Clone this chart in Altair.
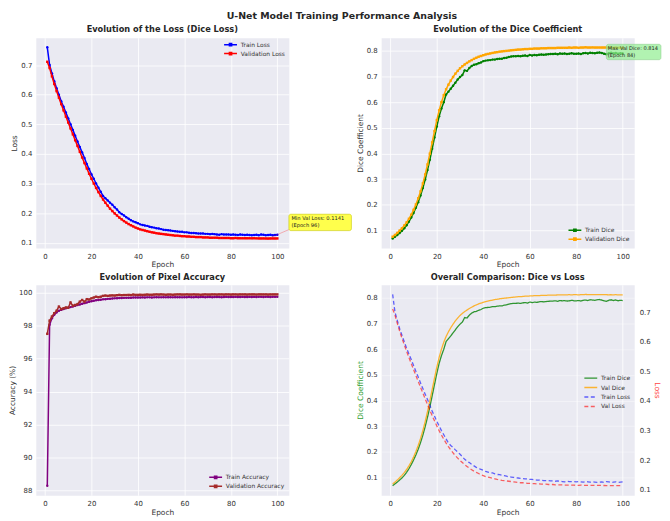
import altair as alt
import pandas as pd

epochs = list(range(1, 101))

train_loss = [0.760, 0.700, 0.672, 0.645, 0.622, 0.600, 0.578, 0.559, 0.540, 0.520,
              0.500, 0.481, 0.461, 0.442, 0.423, 0.405, 0.386, 0.366, 0.349, 0.331,
              0.316, 0.300, 0.286, 0.272, 0.258, 0.250, 0.243, 0.235, 0.228, 0.220,
              0.212, 0.203, 0.197, 0.192, 0.186, 0.181, 0.176, 0.172, 0.169, 0.166,
              0.162, 0.160, 0.158, 0.157, 0.154, 0.152, 0.151, 0.149, 0.148, 0.146,
              0.144, 0.143, 0.142, 0.141, 0.140, 0.139, 0.138, 0.137, 0.137, 0.135,
              0.135, 0.134, 0.133, 0.133, 0.132, 0.131, 0.131, 0.131, 0.130, 0.130,
              0.129, 0.130, 0.129, 0.128, 0.127, 0.129, 0.128, 0.128, 0.128, 0.127,
              0.128, 0.127, 0.126, 0.128, 0.127, 0.126, 0.127, 0.126, 0.125, 0.126,
              0.127, 0.125, 0.128, 0.127, 0.125, 0.126, 0.127, 0.125, 0.126, 0.127]

val_loss = [0.711, 0.690, 0.662, 0.636, 0.612, 0.590, 0.568, 0.547, 0.526, 0.506,
            0.486, 0.466, 0.446, 0.427, 0.407, 0.388, 0.369, 0.351, 0.333, 0.316,
            0.300, 0.285, 0.271, 0.258, 0.246, 0.235, 0.225, 0.215, 0.207, 0.199,
            0.192, 0.185, 0.179, 0.173, 0.168, 0.163, 0.159, 0.155, 0.151, 0.148,
            0.145, 0.143, 0.141, 0.139, 0.137, 0.135, 0.134, 0.132, 0.131, 0.130,
            0.129, 0.128, 0.127, 0.126, 0.125, 0.124, 0.124, 0.123, 0.122, 0.122,
            0.121, 0.121, 0.120, 0.120, 0.119, 0.119, 0.119, 0.118, 0.118, 0.118,
            0.117, 0.117, 0.117, 0.117, 0.116, 0.116, 0.116, 0.116, 0.116, 0.115,
            0.115, 0.116, 0.115, 0.115, 0.115, 0.115, 0.1149, 0.115, 0.1148, 0.115,
            0.1147, 0.1146, 0.1145, 0.1146, 0.1144, 0.1141, 0.1143, 0.1145, 0.1144, 0.1145]

train_dice = [0.068, 0.075, 0.082, 0.090, 0.098, 0.108, 0.120, 0.134, 0.150, 0.168,
              0.188, 0.210, 0.236, 0.265, 0.298, 0.335, 0.375, 0.418, 0.462, 0.505,
              0.545, 0.575, 0.600, 0.630, 0.641, 0.652, 0.664, 0.676, 0.688, 0.698,
              0.706, 0.724, 0.722, 0.733, 0.741, 0.746, 0.748, 0.752, 0.755, 0.760,
              0.762, 0.763, 0.764, 0.766, 0.766, 0.768, 0.769, 0.769, 0.772, 0.773,
              0.776, 0.778, 0.779, 0.779, 0.780, 0.779, 0.781, 0.782, 0.780, 0.784,
              0.782, 0.784, 0.783, 0.785, 0.786, 0.785, 0.786, 0.787, 0.788, 0.788,
              0.789, 0.787, 0.790, 0.789, 0.790, 0.788, 0.789, 0.791, 0.789, 0.789,
              0.790, 0.788, 0.791, 0.792, 0.790, 0.793, 0.792, 0.791, 0.793, 0.794,
              0.792, 0.789, 0.787, 0.791, 0.793, 0.790, 0.792, 0.789, 0.791, 0.790]

val_dice = [0.075, 0.082, 0.090, 0.099, 0.108, 0.119, 0.131, 0.145, 0.161, 0.180,
            0.201, 0.225, 0.252, 0.283, 0.318, 0.357, 0.399, 0.443, 0.487, 0.530,
            0.568, 0.600, 0.627, 0.650, 0.668, 0.684, 0.698, 0.711, 0.722, 0.732,
            0.740, 0.747, 0.753, 0.759, 0.764, 0.769, 0.773, 0.777, 0.780, 0.783,
            0.786, 0.788, 0.790, 0.792, 0.794, 0.795, 0.797, 0.798, 0.799, 0.800,
            0.801, 0.802, 0.803, 0.804, 0.805, 0.805, 0.806, 0.807, 0.807, 0.808,
            0.808, 0.809, 0.809, 0.809, 0.810, 0.810, 0.810, 0.811, 0.811, 0.811,
            0.811, 0.812, 0.812, 0.812, 0.812, 0.812, 0.813, 0.812, 0.813, 0.813,
            0.812, 0.813, 0.813, 0.814, 0.813, 0.813, 0.8135, 0.813, 0.813, 0.813,
            0.813, 0.813, 0.813, 0.812, 0.813, 0.812, 0.813, 0.812, 0.812, 0.812]

train_acc = [88.30, 98.05, 98.45, 98.65, 98.80, 98.90, 98.95, 99.00, 99.05, 99.08,
             99.12, 99.15, 99.20, 99.24, 99.28, 99.32, 99.36, 99.40, 99.44, 99.47,
             99.50, 99.53, 99.55, 99.57, 99.59, 99.60, 99.62, 99.63, 99.64, 99.65,
             99.66, 99.67, 99.67, 99.68, 99.68, 99.69, 99.69, 99.70, 99.70, 99.70,
             99.70, 99.71, 99.70, 99.71, 99.71, 99.70, 99.71, 99.72, 99.71, 99.71,
             99.72, 99.71, 99.72, 99.72, 99.71, 99.72, 99.72, 99.72, 99.71, 99.72,
             99.72, 99.73, 99.72, 99.72, 99.73, 99.72, 99.73, 99.73, 99.72, 99.73,
             99.73, 99.72, 99.73, 99.73, 99.73, 99.72, 99.73, 99.74, 99.73, 99.73,
             99.73, 99.74, 99.73, 99.73, 99.74, 99.73, 99.73, 99.74, 99.73, 99.74,
             99.73, 99.74, 99.74, 99.73, 99.74, 99.74, 99.73, 99.74, 99.74, 99.74]

val_acc = [97.50, 98.30, 98.55, 98.75, 98.90, 99.15, 99.00, 99.05, 99.10, 99.08,
           99.40, 99.20, 99.25, 99.30, 99.45, 99.55, 99.45, 99.60, 99.58, 99.65,
           99.70, 99.75, 99.72, 99.75, 99.80, 99.82, 99.80, 99.82, 99.83, 99.82,
           99.84, 99.86, 99.84, 99.85, 99.85, 99.86, 99.85, 99.88, 99.86, 99.86,
           99.87, 99.86, 99.87, 99.88, 99.87, 99.87, 99.88, 99.89, 99.88, 99.89,
           99.88, 99.87, 99.88, 99.88, 99.87, 99.88, 99.89, 99.89, 99.88, 99.88,
           99.89, 99.88, 99.88, 99.89, 99.88, 99.88, 99.87, 99.88, 99.89, 99.88,
           99.88, 99.89, 99.89, 99.88, 99.89, 99.89, 99.88, 99.89, 99.89, 99.88,
           99.89, 99.89, 99.88, 99.89, 99.89, 99.89, 99.88, 99.89, 99.89, 99.89,
           99.88, 99.89, 99.89, 99.89, 99.89, 99.88, 99.89, 99.89, 99.89, 99.89]

x_ticks = [0, 20, 40, 60, 80, 100]
loss_ticks = [0.1, 0.2, 0.3, 0.4, 0.5, 0.6, 0.7]
dice_ticks = [0.1, 0.2, 0.3, 0.4, 0.5, 0.6, 0.7, 0.8]
acc_ticks = [88, 90, 92, 94, 96, 98, 100]

FONT = "DejaVu Sans"
TXT = "#333333"
W, H = 255, 212

# matplotlib-like 5% margins
def mdomain(*arrs):
    lo = min(min(a) for a in arrs)
    hi = max(max(a) for a in arrs)
    p = 0.05 * (hi - lo)
    return [lo - p, hi + p]

xdom = mdomain(epochs)
loss_dom = mdomain(train_loss, val_loss)
dice_dom = mdomain(train_dice, val_dice)
acc_dom = mdomain(train_acc, val_acc)

def sdf(vals, name):
    return pd.DataFrame({"epoch": epochs, "value": vals, "series": name})

X = alt.X("epoch:Q", scale=alt.Scale(domain=xdom, nice=False, zero=False),
          axis=alt.Axis(values=x_ticks, title="Epoch", format="d"))

LM = "M-1,0L3,0M0.65,-0.35L1.35,-0.35L1.35,0.35L0.65,0.35Z"
LN = "M-1,0L3,0"

def legend(orient, symbol, rowpad=2.5, **kw):
    return alt.Legend(orient=orient, title=None, symbolType=symbol, symbolSize=42,
                      symbolStrokeWidth=1.5, labelOffset=9.5, rowPadding=rowpad,
                      labelFontSize=6, labelFont=FONT, labelColor=TXT, padding=0,
                      symbolFillColor="transparent", **kw)

def yenc(ydom, yticks, ytitle, fmt):
    return alt.Y("value:Q", scale=alt.Scale(domain=ydom, nice=False, zero=False),
                 axis=alt.Axis(values=yticks, title=ytitle, format=fmt))

def line_panel(tr_vals, va_vals, names, colors, Y, leg):
    cscale = alt.Scale(domain=names, range=colors)
    a = alt.Chart(sdf(tr_vals, names[0])).mark_line(
        strokeWidth=1.5, point=alt.OverlayMarkDef(size=6, filled=True, shape="circle")
    ).encode(x=X, y=Y, color=alt.Color("series:N", scale=cscale, legend=leg))
    b = alt.Chart(sdf(va_vals, names[1])).mark_line(
        strokeWidth=1.5, point=alt.OverlayMarkDef(size=6, filled=True, shape="square")
    ).encode(x=X, y=Y, color=alt.Color("series:N", scale=cscale, legend=leg))
    return a, b

# Panel 1: loss
Y1 = yenc(loss_dom, loss_ticks, "Loss", ".1f")
best_ep = val_loss.index(min(val_loss)) + 1
min_val = min(val_loss)
ann1 = pd.DataFrame({"epoch": [best_ep], "value": [min_val],
                     "label": [[f"Min Val Loss: {min_val:.4f}", f"(Epoch {best_ep})"]]})
a1, b1 = line_panel(train_loss, val_loss, ["Train Loss", "Validation Loss"], ["blue", "red"],
                    Y1, legend("top-right", LM, rowpad=-1.5, offset=3))
arrow1 = alt.Chart(ann1).mark_rule(color="red", opacity=0.35, strokeWidth=0.8,
                                   x2Offset=21, y2Offset=-9).encode(
    x=X, x2="epoch", y=Y1, y2="value")
box1 = alt.Chart(ann1).mark_rect(fill="yellow", fillOpacity=0.7, stroke="#c9c900",
                                 strokeWidth=0.6, cornerRadius=2,
                                 xOffset=21, x2Offset=84, yOffset=-24.5, y2Offset=-8).encode(
    x=X, x2="epoch", y=Y1, y2="value")
txt1 = alt.Chart(ann1).mark_text(align="left", baseline="top", dx=23.5, dy=-23,
                                 fontSize=5.2, lineHeight=7.2, font=FONT, color="#222").encode(
    x=X, y=Y1, text="label")
p1 = alt.layer(a1, b1, arrow1, box1, txt1).properties(
    width=W, height=H, title="Evolution of the Loss (Dice Loss)")

# Panel 2: dice
Y2 = yenc(dice_dom, dice_ticks, "Dice Coefficient", ".1f")
best_d_ep = val_dice.index(max(val_dice)) + 1
max_d = max(val_dice)
ann2 = pd.DataFrame({"epoch": [best_d_ep], "value": [max_d],
                     "label": [[f"Max Val Dice: {max_d:.3f}", f"(Epoch {best_d_ep})"]]})
a2, b2 = line_panel(train_dice, val_dice, ["Train Dice", "Validation Dice"], ["green", "orange"],
                    Y2, legend("bottom-right", LM, rowpad=-1.5, offset=4))
box2 = alt.Chart(ann2).mark_rect(fill="lightgreen", fillOpacity=0.7, stroke="#8fd08f",
                                 strokeWidth=0.6, cornerRadius=2,
                                 xOffset=21, x2Offset=76, yOffset=-3, y2Offset=12.5).encode(
    x=X, x2="epoch", y=Y2, y2="value")
txt2 = alt.Chart(ann2).mark_text(align="left", baseline="top", dx=22.5, dy=-1.5,
                                 fontSize=5.1, lineHeight=7.2, font=FONT, color="#222").encode(
    x=X, y=Y2, text="label")
p2 = alt.layer(a2, b2, box2, txt2).properties(
    width=W, height=H, title="Evolution of the Dice Coefficient")

# Panel 3: accuracy
Y3 = yenc(acc_dom, acc_ticks, "Accuracy (%)", "d")
a3, b3 = line_panel(train_acc, val_acc, ["Train Accuracy", "Validation Accuracy"],
                    ["purple", "brown"], Y3, legend("bottom-right", LM, rowpad=-1.5, offset=4))
p3 = alt.layer(a3, b3).properties(width=W, height=H, title="Evolution of Pixel Accuracy")

# Panel 4: comparison with twin axes
names4 = ["Train Dice", "Val Dice", "Train Loss", "Val Loss"]
cols4 = ["rgba(0,128,0,0.8)", "rgba(255,165,0,0.8)", "rgba(0,0,255,0.6)", "rgba(255,0,0,0.6)"]
dash4 = [[1, 0], [1, 0], [4, 2.5], [4, 2.5]]
leg4 = legend("none", LN, legendX=204, legendY=90)
C4 = alt.Color("series:N", scale=alt.Scale(domain=names4, range=cols4), legend=leg4)
D4 = alt.StrokeDash("series:N", scale=alt.Scale(domain=names4, range=dash4), legend=leg4)
dice_df = pd.concat([sdf(train_dice, "Train Dice"), sdf(val_dice, "Val Dice")])
loss_df = pd.concat([sdf(train_loss, "Train Loss"), sdf(val_loss, "Val Loss")])
left4 = alt.Chart(dice_df).mark_line(strokeWidth=1.3).encode(
    x=X,
    y=alt.Y("value:Q", scale=alt.Scale(domain=dice_dom, nice=False, zero=False),
            axis=alt.Axis(values=dice_ticks, title="Dice Coefficient", format=".1f",
                          titleColor="#33a033", gridOpacity=0.5)),
    color=C4, strokeDash=D4)
right4 = alt.Chart(loss_df).mark_line(strokeWidth=1.3).encode(
    x=X,
    y=alt.Y("value:Q", scale=alt.Scale(domain=loss_dom, nice=False, zero=False),
            axis=alt.Axis(values=loss_ticks, title="Loss", format=".1f", orient="right",
                          titleColor="#ff4444", labelPadding=5)),
    color=C4, strokeDash=D4)
p4 = alt.layer(left4, right4).resolve_scale(y="independent").properties(
    width=W, height=H, title="Overall Comparison: Dice vs Loss")

chart = alt.concat(p1, p2, p3, p4, columns=2, spacing={"row": 37, "column": 93},
                   bounds="flush").resolve_scale(
    color="independent", strokeDash="independent").resolve_legend(
    color="independent", strokeDash="independent").properties(
    title=alt.TitleParams("U-Net Model Training Performance Analysis", fontSize=9.5,
                          anchor="middle", dx=7, offset=5, color="#262626"),
    padding={"left": 0, "top": 0, "right": 0, "bottom": 0}
).configure_view(fill="#EAEAF2", stroke="transparent").configure_axis(
    grid=True, gridColor="white", gridWidth=0.8, domain=False, ticks=False,
    labelFontSize=7, labelColor=TXT, labelFont=FONT, labelPadding=4,
    titleFontSize=7.5, titleColor=TXT, titleFont=FONT, titleFontWeight="normal",
    titlePadding=2
).configure_title(font=FONT, fontWeight="bold", fontSize=8.3, color="#262626", offset=4)

chart.save("out.html", embed_options={"renderer": "svg", "actions": False})
